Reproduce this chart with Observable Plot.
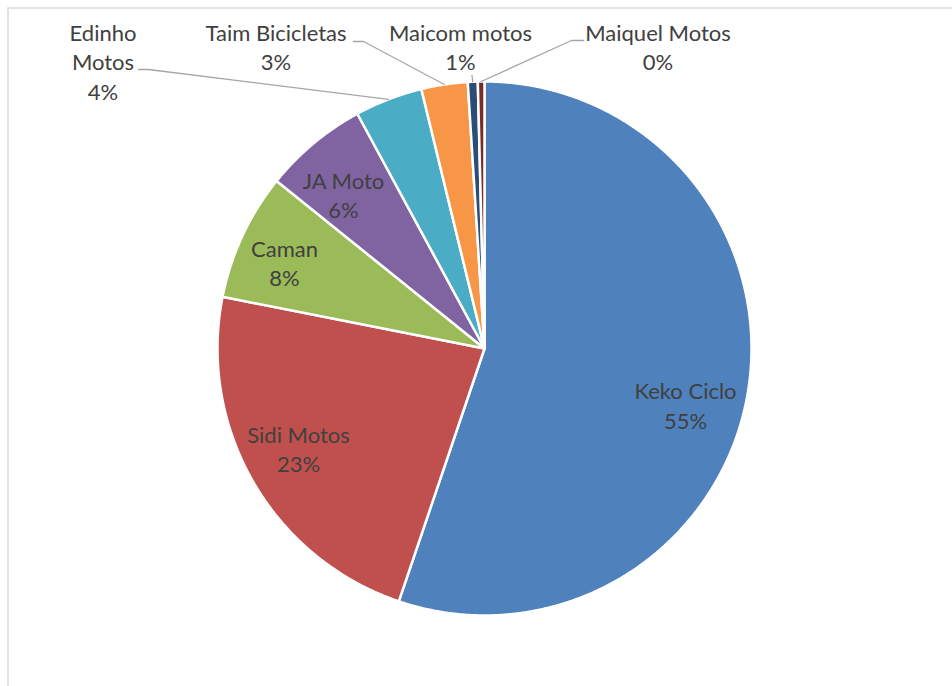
<!DOCTYPE html>
<html>
<head>
<meta charset="utf-8">
<script src="https://cdn.jsdelivr.net/npm/d3@7"></script>
<script src="https://cdn.jsdelivr.net/npm/@observablehq/plot@0.6"></script>
<style>
  html, body { margin: 0; padding: 0; background: #ffffff; }
  #chart svg { display: block; }
</style>
</head>
<body>
<div id="chart"></div>
<script>
// ---------- data ----------
const companies = ["Keko Ciclo", "Sidi Motos", "Caman", "JA Moto", "Edinho Motos", "Taim Bicicletas", "Maicom motos", "Maiquel Motos"];
const shares = [55.2, 22.9, 7.7, 6.3, 4.1, 2.8, 0.6, 0.4];
const labelNames = ["Keko Ciclo", "Sidi Motos", "Caman", "JA Moto", "Edinho\nMotos", "Taim Bicicletas", "Maicom motos", "Maiquel Motos"];
const sliceColors = ["#4F81BD", "#C0504D", "#9BBB59", "#8064A2", "#4BACC6", "#F79646", "#2C4D75", "#772C2A"];

// ---------- layout (pixel positions, kept apart from the data) ----------
const W = 952, H = 686;
const CX = 484, CY = 348, R = 267;
const labelPos = [[685, 404], [298, 447.5], [284, 261.5], [343, 193.5], [102.5, 60.5], [275.5, 45.5], [460, 45.5], [657.5, 45.5]];
// leader lines: label-side points, the slice end is computed from the data
const leaderStarts = {
  "Edinho Motos": [[138, 69], [148, 69]],
  "Taim Bicicletas": [[353, 41], [363, 41]],
  "Maicom motos": [[471.5, 75]],
  "Maiquel Motos": [[583, 40], [571, 40]]
};

// ---------- derived ----------
const total = d3.sum(shares);
const arcs = d3.pie().sort(null).value(d => d)(shares);
const pct = d3.format(".0%");

const wedgePts = [];
arcs.forEach((a, i) => {
  const name = companies[i];
  wedgePts.push({name, x: CX, y: CY});
  const n = Math.max(2, Math.ceil((a.endAngle - a.startAngle) / 0.005));
  for (let k = 0; k <= n; k++) {
    const t = a.startAngle + (a.endAngle - a.startAngle) * k / n;
    wedgePts.push({name, x: CX + R * Math.sin(t), y: CY - R * Math.cos(t)});
  }
});

const labels = companies.map((name, i) => ({
  name,
  x: labelPos[i][0],
  y: labelPos[i][1],
  text: labelNames[i] + "\n" + pct(shares[i] / total)
}));

const leaderPts = [];
companies.forEach((name, i) => {
  if (!leaderStarts[name]) return;
  leaderStarts[name].forEach(p => leaderPts.push({name, x: p[0], y: p[1]}));
  const mid = (arcs[i].startAngle + arcs[i].endAngle) / 2;
  leaderPts.push({name, x: CX + R * Math.sin(mid), y: CY - R * Math.cos(mid)});
});

const chart = Plot.plot({
  width: W,
  height: H,
  margin: 0,
  style: {fontFamily: "Lato, 'Open Sans', sans-serif", background: "#ffffff"},
  x: {domain: [0, W], range: [0, W], axis: null},
  y: {domain: [0, H], range: [0, H], axis: null},
  color: {domain: companies, range: sliceColors},
  marks: [
    Plot.ruleX([7.5], {y1: 7.5, y2: H, stroke: "#d9d9d9", strokeWidth: 1.5}),
    Plot.ruleY([7.5], {x1: 7.5, x2: W, stroke: "#d9d9d9", strokeWidth: 1.5}),
    Plot.line(wedgePts, {x: "x", y: "y", z: "name", fill: "name", stroke: "#ffffff", strokeWidth: 2.5, strokeLinejoin: "round", curve: "linear-closed"}),
    Plot.line(leaderPts, {x: "x", y: "y", z: "name", stroke: "#a6a6a6", strokeWidth: 1.3}),
    Plot.text(labels, {x: "x", y: "y", text: "text", fontSize: 22, lineHeight: 1.34, fill: "#404040", textAnchor: "middle"})
  ]
});
document.getElementById("chart").appendChild(chart);
</script>
</body>
</html>
